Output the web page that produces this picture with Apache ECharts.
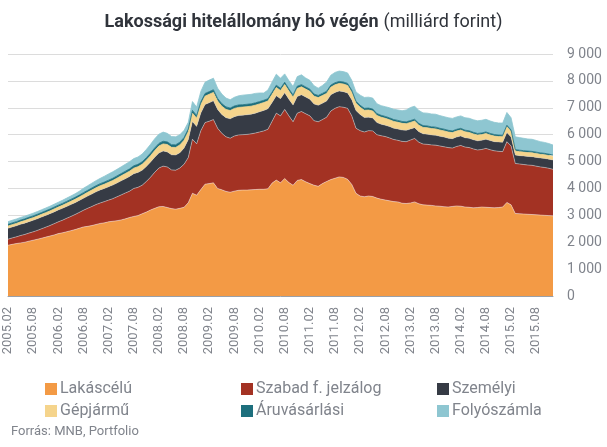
<!DOCTYPE html>
<html>
<head>
<meta charset="utf-8">
<script src="https://cdn.jsdelivr.net/npm/echarts@6/dist/echarts.min.js"></script>
<style>html,body{margin:0;padding:0;background:#fff}#c{width:607px;height:447px}</style>
</head>
<body>
<div id="c"></div>
<script>
// categories: monthly, 2005.02 .. 2015.12
const startYear = 2005, startMonth = 2, monthCount = 131;
const categories = [];
for (let k = 0; k < monthCount; k++) {
  const m = startMonth - 1 + k;
  const y = startYear + Math.floor(m / 12);
  const mm = (m % 12) + 1;
  categories.push(y + '.' + (mm < 10 ? '0' + mm : mm));
}

const seriesNames = ['Lakáscélú', 'Szabad f. jelzálog', 'Személyi', 'Gépjármű', 'Áruvásárlási', 'Folyószámla'];

const lakascelu = [
1890,1920,1950,1975,2000,2040,2075,2110,2150,2190,2230,
2270,2320,2350,2390,2430,2470,2520,2570,2590,2620,2660,2700,
2720,2760,2780,2800,2830,2870,2920,2960,2990,3060,3120,3200,
3260,3320,3330,3290,3250,3230,3260,3300,3470,3820,3750,3960,
4160,4180,4210,4000,3950,3890,3860,3900,3930,3940,3940,3950,
3960,3970,3970,3990,4200,4310,4210,4370,4220,4120,4300,4330,
4250,4180,4120,4080,4180,4260,4330,4380,4430,4410,4340,4150,
3820,3720,3690,3720,3700,3640,3600,3570,3540,3510,3500,3450,
3440,3460,3500,3430,3390,3380,3370,3350,3340,3320,3310,3330,
3350,3340,3310,3300,3280,3290,3310,3300,3290,3280,3290,3310,
3480,3390,3070,3060,3050,3040,3030,3020,3010,3000,2990,2980];

const szabad = [
225,240,250,275,290,300,310,330,350,370,390,
420,437,470,500,530,560,590,620,670,710,740,760,
790,806,840,890,930,960,980,1040,1050,1060,1140,1220,
1340,1440,1500,1510,1440,1450,1500,1600,1680,2010,1910,2190,
2290,2320,2350,2240,2100,2030,2010,2050,2060,2060,2070,2080,
2100,2130,2170,2210,2300,2490,2490,2570,2480,2360,2500,2530,
2530,2520,2400,2400,2380,2390,2550,2600,2610,2610,2640,2550,
2420,2430,2410,2430,2440,2360,2360,2360,2340,2310,2290,2300,
2300,2340,2360,2290,2260,2260,2250,2260,2240,2230,2210,2170,
2210,2260,2230,2220,2190,2140,2140,2190,2150,2120,2090,2060,
2260,2190,1860,1850,1840,1830,1830,1810,1790,1780,1760,1730];

const szemelyi = [
400,405,410,415,420,425,430,432,434,436,438,
438,440,440,440,440,440,440,445,455,465,475,485,
490,495,505,515,525,535,545,550,555,558,560,560,
560,560,560,560,560,560,570,600,660,660,645,660,
670,690,700,700,700,710,720,720,720,725,730,730,
740,750,760,760,700,650,640,620,620,620,620,620,
620,620,620,610,610,600,600,590,580,580,570,600,
660,600,540,500,480,450,430,420,420,420,420,420,
420,410,400,390,380,380,370,370,360,360,350,350,
350,350,345,345,340,340,340,340,340,340,345,350,
340,330,310,310,315,320,320,325,330,335,340,345];

const gepjarmu = [
86,88,90,92,94,96,98,100,102,104,106,
108,110,114,118,122,126,130,135,140,145,150,155,
160,166,172,178,184,190,197,204,212,220,230,240,
250,258,266,272,278,284,290,295,300,310,308,312,
312,312,312,310,310,308,306,305,303,300,300,298,
296,294,292,290,300,305,300,305,300,295,300,298,
295,292,290,288,286,285,285,284,283,282,280,275,
270,268,266,264,262,260,258,256,254,252,250,250,
248,246,244,242,240,238,236,234,232,230,228,226,
224,222,220,218,216,214,212,210,208,206,204,202,
215,205,150,148,146,145,144,142,140,138,136,135];

const aruvasarlasi = [
63,64,64,65,65,66,66,67,67,68,68,
69,69,70,70,71,72,73,74,75,76,77,78,
79,80,82,83,85,86,88,89,91,92,94,95,
97,98,99,100,100,100,100,100,100,102,101,101,
100,99,98,97,96,95,94,93,92,91,90,89,
88,87,86,86,85,85,84,84,83,83,82,82,
81,81,80,80,79,79,78,78,77,77,76,76,
75,75,74,74,73,73,72,72,71,71,70,70,
69,69,68,68,67,67,66,66,65,65,64,64,
63,63,62,62,61,61,60,60,59,59,58,58,
57,57,55,55,54,54,53,53,52,52,51,50];

const folyoszamla = [
101,100,100,99,99,98,101,101,103,104,106,
108,111,116,122,127,132,142,161,170,179,188,197,
216,234,241,244,251,259,265,267,272,288,306,325,
343,344,340,318,302,296,280,265,250,328,311,387,
418,429,430,383,354,327,310,322,340,354,355,353,
351,319,272,324,375,410,376,311,307,312,358,365,
334,327,310,272,295,346,367,383,385,386,390,369,
345,377,405,407,405,367,360,362,375,382,390,400,
443,485,488,480,473,475,478,480,473,465,468,465,
463,463,464,465,468,470,473,470,463,455,448,450,
473,458,475,467,460,451,451,435,418,405,393,375];

const yTicks = [0, 1000, 2000, 3000, 4000, 5000, 6000, 7000, 8000, 9000];

const colors = ['#F39A45', '#A33223', '#363B45', '#F5D48C', '#1D6F7D', '#8EC6D1'];
const lineColors = ['rgba(255,255,255,0.7)', 'rgba(220,220,220,0.8)', 'rgba(200,200,200,0.6)', '#F5D48C', '#1D6F7D', '#8EC6D1'];
const dataSets = [lakascelu, szabad, szemelyi, gepjarmu, aruvasarlasi, folyoszamla];

const FONT = 'Roboto';
const GRAY = '#80848c';

const legendPos = [
  {left: 40, top: 376}, {left: 236, top: 376}, {left: 432, top: 376},
  {left: 40, top: 398}, {left: 236, top: 398}, {left: 432, top: 398}
];

const chart = echarts.init(document.getElementById('c'), null, {renderer: 'canvas'});
chart.setOption({
  animation: false,
  color: colors,
  title: {
    text: '{b|Lakossági hitelállomány hó végén} {n|(milliárd forint)}',
    left: 'center',
    top: 8,
    textStyle: {
      rich: {
        b: {fontFamily: FONT, fontWeight: 'bold', fontSize: 18, color: '#30343b'},
        n: {fontFamily: FONT, fontWeight: 'normal', fontSize: 18, color: '#30343b'}
      }
    }
  },
  legend: seriesNames.map((n, k) => ({
    data: [n],
    left: legendPos[k].left,
    top: legendPos[k].top,
    icon: 'rect',
    itemWidth: 12,
    itemHeight: 12,
    itemGap: 0,
    textStyle: {fontFamily: FONT, fontSize: 16, color: GRAY, padding: [0, 0, 0, -2]}
  })),
  graphic: [{
    type: 'text',
    left: 11,
    top: 425,
    style: {text: 'Forrás: MNB, Portfolio', fontFamily: FONT, fontSize: 13, fill: GRAY}
  }],
  grid: {left: 8, right: 54, top: 54, bottom: 151, containLabel: false},
  xAxis: {
    type: 'category',
    data: categories,
    boundaryGap: false,
    axisLine: {lineStyle: {color: '#9aa0a8', width: 1}},
    axisTick: {show: false},
    axisLabel: {
      interval: 5,
      rotate: 90,
      margin: 11,
      fontFamily: FONT,
      fontSize: 13,
      color: GRAY
    },
    splitLine: {show: false}
  },
  yAxis: {
    type: 'value',
    position: 'right',
    min: yTicks[0],
    max: yTicks[yTicks.length - 1],
    interval: 1000,
    axisLine: {show: false},
    axisTick: {show: false},
    axisLabel: {
      margin: 14,
      fontFamily: FONT,
      fontSize: 14,
      color: GRAY,
      formatter: v => String(v).replace(/\B(?=(\d{3})+(?!\d))/g, ' ')
    },
    splitLine: {lineStyle: {color: '#dcdcdc', width: 1}}
  },
  series: seriesNames.map((n, k) => ({
    name: n,
    type: 'line',
    stack: 'total',
    data: dataSets[k],
    symbol: 'none',
    smooth: false,
    lineStyle: {width: k < 3 ? 0.6 : 0.8, color: lineColors[k]},
    areaStyle: {color: colors[k], opacity: 1},
    itemStyle: {color: colors[k]},
    emphasis: {disabled: true}
  }))
});
</script>
</body>
</html>
